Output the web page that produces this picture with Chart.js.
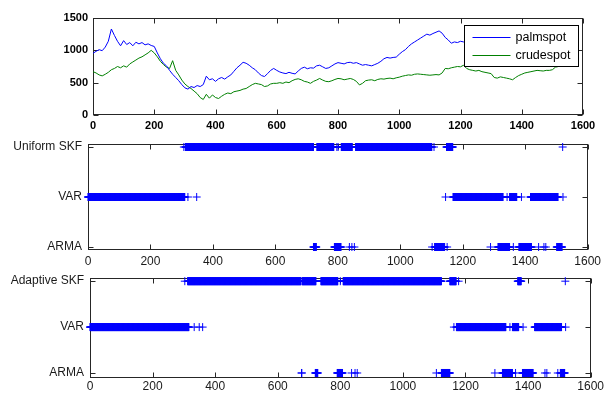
<!DOCTYPE html>
<html>
<head>
<meta charset="utf-8">
<script src="https://cdn.jsdelivr.net/npm/chart.js@4.4.1/dist/chart.umd.min.js"></script>
<style>
  html, body { margin: 0; padding: 0; background: #fff; }
  #wrap { position: relative; width: 605px; height: 394px; overflow: hidden; }
  #wrap canvas { position: absolute; left: 0; }
</style>
</head>
<body>
<div id="wrap">
  <canvas id="priceChart" width="605" height="135" style="top:0px"></canvas>
  <canvas id="uniformChart" width="605" height="140" style="top:130px"></canvas>
  <canvas id="adaptiveChart" width="605" height="129" style="top:265px"></canvas>
</div>
<script>
// --- spot prices, one reading every 10 observations (t = 0 .. 1520) ---
const DAY_STEP = 10;
const palmspot = [
  954, 985, 1010, 995, 1050, 1140, 1330, 1230, 1140, 1070,
  1150, 1090, 1120, 1070, 1125, 1100, 1120, 1085, 1100, 1075,
  1060, 960, 870, 800, 760, 690, 630, 580, 530, 470,
  420, 400, 440, 425, 455, 440, 470, 600, 545, 560,
  520, 560, 580, 555, 590, 620, 675, 730, 770, 815,
  800, 770, 730, 700, 650, 610, 595, 640, 690, 720,
  690, 665, 650, 640, 660, 645, 635, 680, 720, 740,
  715, 730, 725, 760, 770, 745, 720, 730, 760, 790,
  810, 800, 790, 810, 815, 800, 810, 790, 770, 780,
  770, 760, 780, 800, 830, 870, 890, 880, 890, 895,
  940, 980, 1010, 1060, 1100, 1130, 1160, 1190, 1220, 1250,
  1235, 1260, 1280, 1300, 1265, 1200, 1160, 1110, 1130, 1120,
  1140, 1130, 1150, 1170, 1160, 1180, 1200, 1190, 1170, 1150,
  1130, 1100, 1110, 1090, 1100, 1080, 1060, 1050, 1080, 1100,
  1120, 1130, 1140, 1160, 1170, 1180, 1170, 1160, 1180, 1190,
  1200, 1230, 1250
];
const crudespot = [
  670, 650, 620, 605, 630, 660, 700, 720, 750, 730,
  760, 740, 790, 820, 850, 880, 900, 930, 960, 1000,
  960, 900, 830, 780, 740, 720, 840, 690, 620, 540,
  480, 440, 410, 370, 330, 270, 240, 320, 260, 310,
  270, 255, 290, 320, 340, 330, 360, 370, 380, 400,
  410, 440, 470, 490, 480, 470, 440, 450, 480, 490,
  490, 500, 490, 510, 500, 530, 550, 560, 545, 520,
  510, 490, 520, 540, 565, 540, 520, 515, 530, 550,
  565, 560, 545, 555, 565, 550, 520, 465, 490, 530,
  540, 545, 530, 550, 560, 555, 565, 570, 560, 575,
  585, 600, 610, 620, 615, 630, 635, 630, 625, 620,
  615, 620, 625, 620, 650, 720, 715, 730, 740, 750,
  745, 770, 720, 700, 690, 680, 690, 670, 660, 650,
  640, 580, 570, 590, 580, 570, 560, 545, 580, 610,
  630, 650, 660, 670, 680, 690, 685, 680, 690, 690,
  700, 740, 750
];
const seriesColors = ['#0000ff', '#008000'];

// --- regime labels (bottom to top) ---
const uniformRegimes = ['ARMA', 'VAR', 'Uniform SKF'];
const adaptiveRegimes = ['ARMA', 'VAR', 'Adaptive SKF'];

// --- observation ranges [from, to] assigned to each regime ---
const uniformSkf = [[307,307],[312,722],[733,787],[797,797],[801,801],[811,846],[857,1101],[1108,1108],[1148,1168],[1520,1520]];
const uniformVar = [[0,310],[320,320],[348,348],[1145,1145],[1169,1329],[1342,1342],[1350,1373],[1388,1388],[1417,1505],[1521,1521]];
const uniformArma = [[722,731],[789,810],[837,837],[845,845],[853,853],[1102,1102],[1110,1142],[1150,1150],[1289,1289],[1313,1350],[1362,1362],[1380,1420],[1443,1443],[1460,1460],[1466,1466],[1501,1518]];

const adaptiveSkf = [[303,303],[312,674],[678,722],[738,792],[800,800],[809,1123],[1150,1170],[1178,1178],[1367,1378],[1519,1519]];
const adaptiveVar = [[0,316],[333,333],[349,349],[360,360],[1163,1163],[1171,1329],[1342,1342],[1350,1370],[1384,1384],[1421,1507],[1520,1520]];
const adaptiveArma = [[676,677],[720,728],[790,807],[836,836],[847,847],[854,854],[1107,1107],[1123,1150],[1294,1294],[1318,1350],[1360,1360],[1382,1416],[1454,1454],[1460,1460],[1495,1495],[1503,1517]];

const xTicks = [0, 200, 400, 600, 800, 1000, 1200, 1400, 1600];
const priceTicks = [0, 500, 1000, 1500];

// box + inward tick marks on all four sides (matlab style)
const frameBox = {
  id: 'frameBox',
  beforeDatasetsDraw(chart) {
    const { ctx, chartArea: a, scales } = chart;
    const L = Math.round(a.left) + 0.5, R = Math.round(a.right) - 0.5;
    const T = Math.round(a.top) + 0.5, B = Math.round(a.bottom) - 0.5;
    ctx.save();
    ctx.strokeStyle = '#262626';
    ctx.lineWidth = 1;
    ctx.beginPath();
    scales.x.ticks.forEach(t => {
      const px = Math.round(scales.x.getPixelForValue(t.value)) + 0.5;
      ctx.moveTo(px, B); ctx.lineTo(px, B - 5);
      ctx.moveTo(px, T); ctx.lineTo(px, T + 5);
    });
    scales.y.ticks.forEach(t => {
      const py = Math.round(scales.y.getPixelForValue(t.value)) + 0.5;
      ctx.moveTo(L, py); ctx.lineTo(L + 5, py);
      ctx.moveTo(R, py); ctx.lineTo(R - 5, py);
    });
    ctx.stroke();
    ctx.strokeRect(L, T, R - L, B - T);
    ctx.restore();
  }
};

// legend box sitting inside the plot, top right
const insideLegend = {
  id: 'insideLegend',
  afterDraw(chart) {
    const { ctx, chartArea: a } = chart;
    const w = 114, h = 41;
    const x0 = Math.round(a.right - w - 5) + 0.5, y0 = Math.round(a.top + 7) + 0.5;
    ctx.save();
    ctx.fillStyle = '#fff';
    ctx.fillRect(x0, y0, w, h);
    ctx.strokeStyle = '#000';
    ctx.lineWidth = 1;
    ctx.strokeRect(x0, y0, w, h);
    ctx.font = '12.5px "Liberation Sans", Arial, sans-serif';
    ctx.textBaseline = 'middle';
    chart.data.datasets.forEach((ds, i) => {
      const y = Math.round(y0 + 11 + i * 18.5) + 0.5;
      ctx.beginPath();
      ctx.strokeStyle = seriesColors[i];
      ctx.moveTo(x0 + 8, y);
      ctx.lineTo(x0 + 46, y);
      ctx.stroke();
      ctx.fillStyle = '#000';
      ctx.fillText(ds.label, x0 + 51, y);
    });
    ctx.restore();
  }
};

function toPoints(values) {
  return values.map((v, i) => ({ x: i * DAY_STEP, y: v }));
}

function expand(ranges, level) {
  const pts = [];
  ranges.forEach(([from, to]) => {
    for (let t = from; t <= to; t++) pts.push({ x: t, y: level });
  });
  return pts;
}

function fixedWidth(w) { return scale => { scale.width = w; }; }
function fixedHeight(h) { return scale => { scale.height = h; }; }
function setTicks(values) { return scale => { scale.ticks = values.map(v => ({ value: v })); }; }

function buildPriceChart() {
  const font = { family: '"Liberation Sans", Arial, sans-serif', size: 11, weight: 'bold' };
  new Chart(document.getElementById('priceChart'), {
    type: 'line',
    data: {
      datasets: [
        { label: 'palmspot', data: toPoints(palmspot), borderColor: seriesColors[0], borderWidth: 1, pointRadius: 0, tension: 0 },
        { label: 'crudespot', data: toPoints(crudespot), borderColor: seriesColors[1], borderWidth: 1, pointRadius: 0, tension: 0 }
      ]
    },
    options: {
      responsive: false,
      animation: false,
      events: [],
      layout: { padding: { left: 0, right: 22, top: 18, bottom: 0 } },
      plugins: { legend: { display: false }, tooltip: { enabled: false } },
      scales: {
        x: {
          type: 'linear', min: 0, max: 1600,
          afterBuildTicks: setTicks(xTicks),
          afterFit: fixedHeight(20),
          grid: { display: false, drawTicks: false }, border: { display: false },
          ticks: { font, color: '#000', padding: 4, maxRotation: 0, callback: v => String(v) }
        },
        y: {
          min: 0, max: 1500,
          afterBuildTicks: setTicks(priceTicks),
          afterFit: fixedWidth(93),
          grid: { display: false, drawTicks: false }, border: { display: false },
          ticks: { font, color: '#000', padding: 5, callback: v => String(v) }
        }
      }
    },
    plugins: [frameBox, insideLegend]
  });
}

function buildRegimeChart(id, labels, skf, varR, arma, opt) {
  const font = { family: '"Liberation Sans", Arial, sans-serif', size: 12 };
  const marker = { pointStyle: 'cross', pointRadius: 4, borderColor: '#0000ff', borderWidth: 1, showLine: false, clip: false };
  new Chart(document.getElementById(id), {
    type: 'scatter',
    data: {
      datasets: [
        Object.assign({ data: expand(skf, 3) }, marker),
        Object.assign({ data: expand(varR, 2) }, marker),
        Object.assign({ data: expand(arma, 1) }, marker)
      ]
    },
    options: {
      responsive: false,
      animation: false,
      events: [],
      layout: { padding: { left: 0, right: opt.right, top: opt.top, bottom: 0 } },
      plugins: { legend: { display: false }, tooltip: { enabled: false } },
      scales: {
        x: {
          type: 'linear', min: 0, max: 1600,
          afterBuildTicks: setTicks(xTicks),
          afterFit: fixedHeight(opt.axisH),
          grid: { display: false, drawTicks: false }, border: { display: false },
          ticks: { font, color: '#1a1a1a', padding: opt.xPad, maxRotation: 0, callback: v => String(v) }
        },
        y: {
          min: opt.yMin, max: opt.yMax,
          afterBuildTicks: setTicks([1, 2, 3]),
          afterFit: fixedWidth(opt.left),
          grid: { display: false, drawTicks: false }, border: { display: false },
          ticks: { font, color: '#1a1a1a', padding: 6, callback: v => labels[v - 1] }
        }
      }
    },
    plugins: [frameBox]
  });
}

buildPriceChart();
buildRegimeChart('uniformChart', uniformRegimes, uniformSkf, uniformVar, uniformArma,
  { left: 88, right: 16, top: 14, axisH: 20, xPad: 4, yMin: 0.94, yMax: 3.06 });
buildRegimeChart('adaptiveChart', adaptiveRegimes, adaptiveSkf, adaptiveVar, adaptiveArma,
  { left: 90, right: 14, top: 13, axisH: 16, xPad: 1, yMin: 0.891, yMax: 3.065 });
</script>
</body>
</html>
